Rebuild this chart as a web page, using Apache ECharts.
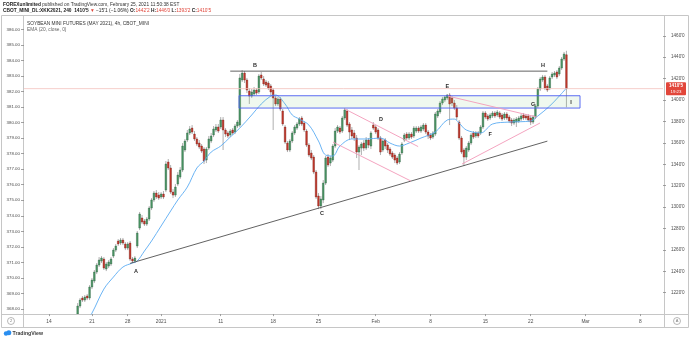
<!DOCTYPE html>
<html>
<head>
<meta charset="utf-8">
<script src="https://cdn.jsdelivr.net/npm/echarts@6/dist/echarts.min.js"></script>
<style>
  html, body { margin: 0; padding: 0; background: #ffffff; }
  #chart { width: 690px; height: 338px; }
</style>
</head>
<body>
<div id="chart"></div>
<script>
// ---- time axis: week labels and number of 4h sessions per week ----
const leadSessions = 10;
const weekLabels = ['14', '21', '28', '2021', '11', '18', '25', 'Feb', '8', '15', '22', 'Mar', '8'];
const weekSessions = [18, 15, 14, 25, 22, 19, 24, 23, 23, 19, 23, 23, 10];

// session number of the first candle on screen
const firstSession = 22;

// 4h candles, cents: [open, close, low, high]
const candles = [
  [1200.0,1207.5,1198.2,1210.3],[1207.5,1213.1,1205.6,1215.0],[1215.0,1213.1,1211.3,1216.9],[1213.1,1215.9,1211.3,1217.8],
  [1216.9,1215.0,1213.1,1218.7],[1215.0,1225.3,1213.1,1227.1],[1225.3,1231.8,1223.4,1233.7],[1230.9,1239.3,1229.0,1241.2],
  [1239.3,1245.8,1237.4,1247.7],[1245.8,1250.5,1244.0,1253.3],[1249.6,1252.4,1247.7,1254.2],[1251.4,1243.0,1241.2,1253.3],
  [1242.1,1246.8,1240.2,1248.6],[1244.9,1248.6,1243.0,1250.5],[1246.8,1251.4,1244.9,1253.3],[1254.2,1259.8,1252.4,1261.7],
  [1259.8,1263.6,1258.0,1265.5],[1268.3,1265.5,1263.6,1270.1],[1266.4,1269.2,1264.5,1271.1],[1269.2,1266.4,1264.5,1271.1],
  [1265.5,1261.7,1259.8,1267.3],[1261.7,1265.5,1259.8,1267.3],[1266.4,1251.4,1249.6,1268.3],[1251.4,1249.6,1247.7,1253.3],
  [1249.6,1252.4,1247.7,1254.2],[1263.6,1275.7,1261.7,1277.6],[1280.4,1293.5,1278.5,1295.4],[1289.8,1286.0,1284.1,1292.6],
  [1287.0,1284.1,1282.3,1288.8],[1284.1,1288.8,1282.3,1290.7],[1288.8,1299.1,1287.0,1301.0],[1299.1,1306.6,1297.2,1308.4],
  [1306.6,1313.1,1304.7,1315.0],[1313.1,1309.4,1307.5,1315.9],[1311.2,1308.4,1306.6,1314.0],[1309.4,1312.2,1307.5,1314.0],
  [1312.2,1309.4,1307.5,1315.0],[1315.9,1340.2,1314.0,1343.0],[1342.1,1336.5,1334.6,1344.9],[1336.5,1314.0,1312.2,1339.3],
  [1314.0,1311.2,1308.4,1316.8],[1311.2,1318.7,1309.4,1321.5],[1321.5,1329.9,1319.6,1332.7],[1328.0,1334.6,1326.2,1337.4],
  [1334.6,1357.0,1332.7,1359.8],[1353.3,1361.7,1351.4,1363.6],[1362.6,1369.2,1360.7,1372.0],[1369.2,1372.9,1367.3,1375.7],
  [1373.8,1370.1,1368.2,1376.6],[1368.2,1363.6,1361.7,1371.0],[1363.6,1358.9,1357.0,1365.4],[1359.8,1356.1,1354.2,1362.6],
  [1357.0,1352.3,1350.5,1358.9],[1354.2,1343.0,1340.2,1356.1],[1343.9,1354.2,1341.1,1356.1],[1355.1,1363.6,1353.3,1366.4],
  [1361.7,1366.4,1359.8,1369.2],[1367.3,1372.9,1365.4,1375.7],[1372.0,1374.8,1370.1,1377.6],[1374.8,1371.0,1369.2,1377.6],
  [1374.8,1381.3,1372.9,1384.1],[1381.3,1372.0,1353.3,1384.1],[1372.0,1368.2,1365.4,1373.8],[1369.2,1366.4,1364.5,1371.0],
  [1367.3,1371.0,1365.4,1372.9],[1372.0,1369.2,1367.3,1373.8],[1370.1,1375.7,1368.2,1377.6],[1375.7,1379.4,1373.8,1381.3],
  [1376.6,1420.6,1374.8,1424.3],[1418.7,1425.2,1416.8,1428.0],[1425.2,1418.7,1415.9,1427.1],[1418.7,1409.3,1406.5,1420.6],
  [1408.4,1403.7,1396.3,1411.2],[1403.7,1407.5,1401.9,1410.3],[1405.6,1409.3,1403.7,1412.2],[1409.3,1406.5,1404.7,1411.2],
  [1407.5,1422.4,1405.6,1424.3],[1423.4,1420.6,1418.7,1426.2],[1419.6,1415.0,1413.1,1422.4],[1416.8,1414.0,1412.2,1418.7],
  [1415.9,1411.2,1409.3,1417.8],[1413.1,1407.5,1404.7,1415.0],[1409.3,1401.9,1372.0,1411.2],[1401.9,1396.3,1394.4,1403.7],
  [1396.3,1400.9,1394.4,1402.8],[1400.9,1391.6,1389.7,1402.8],[1389.7,1377.6,1375.7,1391.6],[1374.8,1360.7,1358.9,1376.6],
  [1359.8,1353.3,1351.4,1361.7],[1353.3,1361.7,1351.4,1363.6],[1361.7,1369.2,1359.8,1371.0],[1369.2,1374.8,1367.3,1376.6],
  [1373.8,1377.6,1372.0,1379.4],[1377.6,1382.2,1375.7,1384.1],[1383.2,1377.6,1375.7,1385.1],[1378.5,1372.0,1370.1,1380.4],
  [1371.0,1357.9,1356.1,1372.9],[1357.9,1348.6,1346.7,1359.8],[1350.5,1345.8,1343.9,1353.3],[1346.7,1332.7,1330.8,1348.6],
  [1332.7,1309.4,1307.5,1334.6],[1310.3,1301.0,1298.1,1313.1],[1301.0,1307.5,1298.1,1310.3],[1306.6,1322.4,1303.7,1325.2],
  [1322.4,1345.8,1320.6,1347.7],[1346.7,1339.3,1337.4,1349.5],[1341.1,1345.8,1338.3,1347.7],[1343.9,1357.0,1342.1,1358.9],
  [1357.0,1371.0,1355.1,1373.8],[1371.0,1374.8,1369.2,1376.6],[1373.8,1370.1,1368.2,1375.7],[1371.0,1383.2,1369.2,1385.1],
  [1383.2,1390.7,1381.3,1392.5],[1389.7,1376.6,1374.8,1391.6],[1377.6,1370.1,1362.6,1379.4],[1372.0,1366.4,1363.6,1374.8],
  [1369.2,1364.5,1361.7,1372.0],[1364.5,1351.4,1345.8,1367.3],[1351.4,1356.1,1334.6,1357.9],[1355.1,1358.9,1348.6,1360.7],
  [1359.8,1355.1,1352.3,1362.6],[1355.1,1362.6,1353.3,1365.4],[1362.6,1357.9,1355.1,1364.5],[1357.0,1369.2,1354.2,1371.0],
  [1376.6,1373.8,1372.0,1379.4],[1374.8,1370.1,1368.2,1376.6],[1372.0,1364.5,1362.6,1373.8],[1364.5,1351.4,1348.6,1366.4],
  [1353.3,1361.7,1351.4,1363.6],[1362.6,1357.0,1354.2,1364.5],[1357.9,1353.3,1350.5,1359.8],[1354.2,1349.5,1347.7,1356.1],
  [1350.5,1346.7,1344.9,1352.3],[1348.6,1343.9,1341.1,1350.5],[1345.8,1341.1,1339.3,1347.7],[1342.1,1349.5,1340.2,1351.4],
  [1350.5,1358.9,1348.6,1360.7],[1362.6,1367.3,1360.7,1369.2],[1368.2,1364.5,1362.6,1370.1],[1364.5,1368.2,1362.6,1370.1],
  [1368.2,1365.4,1363.6,1370.1],[1366.4,1373.8,1364.5,1375.7],[1371.0,1373.8,1369.2,1375.7],[1373.8,1371.0,1369.2,1375.7],
  [1371.0,1374.8,1369.2,1376.6],[1372.9,1376.6,1371.0,1378.5],[1376.6,1370.1,1368.2,1378.5],[1370.1,1366.4,1363.6,1372.0],
  [1367.3,1364.5,1362.6,1369.2],[1365.4,1369.2,1363.6,1371.0],[1368.2,1386.9,1366.4,1388.8],[1385.1,1389.7,1383.2,1391.6],
  [1388.8,1397.2,1386.9,1399.1],[1397.2,1400.9,1395.3,1402.8],[1400.0,1402.8,1398.1,1403.7],[1401.9,1404.7,1400.0,1405.6],
  [1404.7,1396.3,1376.6,1406.5],[1401.9,1397.2,1394.4,1403.7],[1397.2,1392.5,1390.7,1400.0],[1392.5,1384.1,1381.3,1395.3],
  [1379.4,1364.5,1362.6,1381.3],[1364.5,1351.4,1349.5,1366.4],[1353.3,1346.7,1338.3,1355.1],[1346.7,1355.1,1343.9,1357.0],
  [1353.3,1359.8,1351.4,1361.7],[1359.8,1367.3,1357.9,1369.2],[1369.2,1365.4,1363.6,1371.0],[1366.4,1369.2,1364.5,1371.0],
  [1369.2,1366.4,1364.5,1371.0],[1369.2,1374.8,1367.3,1376.6],[1374.8,1387.9,1372.9,1389.7],[1387.9,1384.1,1382.2,1389.7],
  [1385.1,1382.2,1380.4,1386.9],[1383.2,1386.0,1381.3,1387.9],[1385.1,1387.9,1383.2,1389.7],[1387.9,1385.1,1383.2,1389.7],
  [1386.0,1388.8,1384.1,1390.7],[1387.9,1384.1,1382.2,1389.7],[1386.0,1382.2,1380.4,1387.9],[1383.2,1386.9,1381.3,1388.8],
  [1386.9,1383.2,1381.3,1388.8],[1384.1,1380.4,1378.5,1386.0],[1381.3,1378.5,1375.7,1383.2],[1378.5,1381.3,1376.6,1383.2],
  [1379.4,1382.2,1374.8,1384.1],[1380.4,1383.2,1378.5,1385.1],[1382.2,1385.1,1380.4,1386.9],[1386.0,1383.2,1381.3,1387.9],
  [1385.1,1383.2,1381.3,1386.9],[1385.1,1381.3,1379.4,1386.9],[1383.2,1379.4,1376.6,1385.1],[1379.4,1384.1,1377.6,1386.0],
  [1384.1,1394.4,1382.2,1396.3],[1394.4,1410.3,1392.5,1412.2],[1410.3,1419.6,1408.4,1421.5],[1418.7,1421.5,1416.8,1423.4],
  [1421.5,1411.2,1409.3,1423.4],[1413.1,1409.3,1407.5,1415.0],[1411.2,1420.6,1409.3,1422.4],[1421.5,1424.3,1419.6,1426.2],
  [1423.4,1425.2,1421.5,1427.1],[1426.2,1421.5,1419.6,1428.0],[1424.3,1429.9,1422.4,1431.8],[1429.9,1438.3,1428.0,1440.2],
  [1438.3,1443.0,1436.5,1444.9],[1442.25,1410.625,1393.25,1446.0]
];

// EMA (20, close) read at a sampling of sessions: [session, value]
const ema = [
  [26,1195.0],[28,1200.9],[33,1223.4],[37,1234.6],[41,1244.0],[45,1247.7],[47,1249.6],[50,1258.9],[53,1268.3],
  [57,1282.3],[61,1296.3],[64,1306.6],[68,1318.7],[72,1336.5],[75,1343.0],[78,1351.4],[82,1357.0],[86,1365.4],
  [90,1373.8],[95,1386.0],[99,1396.3],[103,1403.7],[105,1404.7],[109,1396.3],[112,1386.0],[115,1382.2],[119,1376.6],
  [123,1361.7],[126,1348.6],[129,1347.7],[132,1357.0],[137,1363.6],[143,1363.6],[149,1364.5],[153,1359.8],[157,1357.0],
  [161,1359.8],[166,1364.5],[172,1370.1],[177,1381.3],[180,1382.2],[182,1378.5],[185,1372.0],[191,1369.2],[196,1377.6],
  [203,1379.4],[212,1380.4],[215,1385.1],[220,1394.4],[224,1403.7],[227,1411.2]
];

// previous settlement used for the change figure in the header
const prevSettle = 1425.75;
const countdown = '19:23';

// axis ticks
const priceTicks = [1220,1240,1260,1280,1300,1320,1340,1360,1380,1400,1420,1440,1460];
const leftTicks = [368,369,370,371,372,373,374,375,376,377,378,379,380,381,382,383,384,385,386];

// drawings: [session, price] end points
const supportLine = [[44, 1247.4], [219, 1361.6]];
const resistanceLine = [[86, 1427.0], [219, 1427.0]];
const channelUpper = [[134.1, 1391.6], [164.8, 1356.5]];
const channelLower = [[129.1, 1360.7], [161.8, 1324.3]];
const wedgeUpper = [[177.3, 1403.7], [214.6, 1384.1]];
const wedgeLower = [[183.2, 1340.2], [215.9, 1378.5]];
const zone = [[89.7, 1404.0], [232.7, 1392.5]];
const pointNames = ['A', 'B', 'C', 'D', 'E', 'F', 'G', 'H', 'I'];
const pointSpots = [[46.5,1240.2],[96.4,1432.7],[124.5,1294.4],[149.2,1382.2],[177.0,1413.1],[195.0,1368.2],[213.0,1396.3],[217.2,1432.7],[228.9,1398.1]];

// ---- helpers ----
const FONT = 'Liberation Sans, Arial, sans-serif';
const UP = '#4c9866', UP_EDGE = '#2b5f3f';
const DOWN = '#c6392c', DOWN_EDGE = '#7a2219';
const WICK = '#9a9a9a';
const PINK = '#f39ab9';
const LINE_DARK = '#505050';

function fmtPrice(p) {
  let whole = Math.floor(p + 1e-9);
  let eighth = Math.round((p - whole) * 8);
  if (eighth === 8) { whole += 1; eighth = 0; }
  return whole + "'" + eighth;
}

const categories = [];
for (let i = 0; i < leadSessions; i++) categories.push('lead|' + i);
weekLabels.forEach((w, k) => {
  for (let i = 0; i < weekSessions[k]; i++) categories.push(k + ':' + w + '|' + i);
});
const isWeekStart = (v) => !v.startsWith('lead') && v.endsWith('|0');

const last = candles[candles.length - 1];
const lastClose = last[1];
const change = lastClose - prevSettle;
const changePct = (change / prevSettle * 100).toFixed(2);

const candleData = candles.map((c, i) => [firstSession + i, c[0], c[1], c[2], c[3]]);

function renderCandle(params, api) {
  const i = api.value(0);
  const o = api.value(1), c = api.value(2), l = api.value(3), h = api.value(4);
  const pO = api.coord([i, o]);
  const pC = api.coord([i, c]);
  const pL = api.coord([i, l]);
  const pH = api.coord([i, h]);
  const band = api.size([1, 0])[0];
  const w = Math.max(1, band * 0.7);
  const cx = pO[0];
  const up = c >= o;
  const top = Math.min(pO[1], pC[1]);
  const hgt = Math.max(0.8, Math.abs(pO[1] - pC[1]));
  return {
    type: 'group',
    children: [
      { type: 'line', shape: { x1: cx, y1: pH[1], x2: cx, y2: pL[1] }, style: { stroke: WICK, lineWidth: 0.8 } },
      { type: 'rect', shape: { x: cx - w / 2, y: top, width: w, height: hgt },
        style: { fill: up ? UP : DOWN, stroke: up ? UP_EDGE : DOWN_EDGE, lineWidth: 0.4 } }
    ]
  };
}

function renderDrawings(params, api) {
  const band = api.size([1, 0])[0];
  const pt = (s, p) => {
    const i = Math.floor(s);
    const c = api.coord([i, p]);
    return [c[0] + (s - i) * band, c[1]];
  };
  const cs = params.coordSys;
  const kids = [];
  const seg = (line, color) => {
    const a = pt(line[0][0], line[0][1]);
    const b = pt(line[1][0], line[1][1]);
    kids.push({ type: 'line', shape: { x1: a[0], y1: a[1], x2: b[0], y2: b[1] }, style: { stroke: color, lineWidth: 0.9 } });
  };
  // last price line
  const yLast = api.coord([0, lastClose])[1];
  kids.push({ type: 'line', shape: { x1: cs.x, y1: yLast, x2: cs.x + cs.width, y2: yLast }, style: { stroke: '#f2c2bd', lineWidth: 0.8 } });
  // support / resistance zone
  const z0 = pt(zone[0][0], zone[0][1]);
  const z1 = pt(zone[1][0], zone[1][1]);
  kids.push({ type: 'rect', shape: { x: z0[0], y: z0[1], width: z1[0] - z0[0], height: z1[1] - z0[1] },
    style: { fill: 'rgba(134,200,134,0.13)', stroke: '#4b5cf2', lineWidth: 0.9 } });
  seg(supportLine, LINE_DARK);
  seg(resistanceLine, LINE_DARK);
  seg(channelUpper, PINK);
  seg(channelLower, PINK);
  seg(wedgeUpper, PINK);
  seg(wedgeLower, PINK);
  pointNames.forEach((n, k) => {
    const p = pt(pointSpots[k][0], pointSpots[k][1]);
    kids.push({ type: 'text', x: p[0], y: p[1],
      style: { text: n, fill: '#2b2b2b', font: 'bold 5.5px ' + FONT, align: 'center', verticalAlign: 'middle' } });
  });
  // price tag on the right scale
  const tagX = cs.x + cs.width + 3;
  kids.push({ type: 'rect', shape: { x: tagX, y: yLast - 6.5, width: 20, height: 13, r: 1 }, style: { fill: '#e2463a' } });
  kids.push({ type: 'text', x: tagX + 10, y: yLast - 3, style: { text: fmtPrice(lastClose), fill: '#ffffff', font: 'bold 4.6px ' + FONT, align: 'center', verticalAlign: 'middle' } });
  kids.push({ type: 'text', x: tagX + 10, y: yLast + 3.2, style: { text: countdown, fill: '#ffffff', font: '4.4px ' + FONT, align: 'center', verticalAlign: 'middle' } });
  return { type: 'group', children: kids };
}

const chart = echarts.init(document.getElementById('chart'), null, { renderer: 'canvas' });

const frameColor = '#c6c6c6';
const option = {
  animation: false,
  backgroundColor: '#ffffff',
  grid: { left: 24, right: 27, top: 14.4, bottom: 23.9 },
  xAxis: {
    type: 'category',
    data: categories,
    boundaryGap: true,
    axisLine: { show: false },
    splitLine: { show: false },
    axisTick: { show: true, alignWithLabel: true, interval: (i, v) => isWeekStart(v), length: 2, lineStyle: { color: '#8a8a8a', width: 0.8 } },
    axisLabel: {
      interval: (i, v) => isWeekStart(v),
      formatter: (v) => isWeekStart(v) ? v.split('|')[0].split(':')[1] : '',
      fontSize: 4.8, color: '#4d4d4d', fontFamily: FONT, margin: 5
    }
  },
  yAxis: [
    {
      type: 'value', position: 'right', min: 1200, max: 1480, interval: 20,
      axisLine: { show: false }, splitLine: { show: false },
      axisTick: { show: true, customValues: priceTicks, length: 3, lineStyle: { color: '#8a8a8a', width: 0.8 } },
      axisLabel: { customValues: priceTicks, formatter: (v) => fmtPrice(v), fontSize: 4.6, color: '#4d4d4d', fontFamily: FONT, margin: 8 }
    },
    {
      type: 'value', position: 'left', min: 367.67, max: 386.97,
      axisLine: { show: false }, splitLine: { show: false },
      axisTick: { show: true, customValues: leftTicks, length: 3, lineStyle: { color: '#8a8a8a', width: 0.8 } },
      axisLabel: { customValues: leftTicks, formatter: (v) => v.toFixed(2), fontSize: 4.4, color: '#4d4d4d', fontFamily: FONT, margin: 4 }
    }
  ],
  series: [
    {
      type: 'custom', name: 'SOYBEAN MINI FUTURES', renderItem: renderCandle, data: candleData,
      encode: { x: 0, y: [1, 2, 3, 4] }, clip: true, z: 2, silent: true
    },
    {
      type: 'line', name: 'EMA (20, close, 0)', data: ema, smooth: 0.35, showSymbol: false, clip: true,
      lineStyle: { color: '#5aacf3', width: 0.9 }, z: 3, silent: true
    },
    {
      type: 'custom', name: 'drawings', renderItem: renderDrawings, data: [[0]],
      encode: { x: 0 }, clip: false, z: 4, silent: true
    }
  ],
  graphic: [
    // frame
    { type: 'rect', shape: { x: 1.5, y: 15.5, width: 687, height: 312 }, style: { fill: 'none', stroke: frameColor, lineWidth: 1 }, z: -1, silent: true },
    { type: 'line', shape: { x1: 23.5, y1: 15.5, x2: 23.5, y2: 327.5 }, style: { stroke: frameColor, lineWidth: 1 }, silent: true },
    { type: 'line', shape: { x1: 664.5, y1: 15.5, x2: 664.5, y2: 327.5 }, style: { stroke: frameColor, lineWidth: 1 }, silent: true },
    { type: 'line', shape: { x1: 1.5, y1: 314.5, x2: 688.5, y2: 314.5 }, style: { stroke: frameColor, lineWidth: 1 }, silent: true },
    // corner buttons
    { type: 'circle', shape: { cx: 11, cy: 321, r: 3.5 }, style: { fill: '#fff', stroke: '#9a9a9a', lineWidth: 0.7 }, silent: true },
    { type: 'text', x: 11, y: 321.2, style: { text: '2', fill: '#777', font: '4px ' + FONT, align: 'center', verticalAlign: 'middle' }, silent: true },
    { type: 'circle', shape: { cx: 677, cy: 321, r: 3.5 }, style: { fill: '#fff', stroke: '#9a9a9a', lineWidth: 0.7 }, silent: true },
    { type: 'text', x: 677, y: 321.2, style: { text: 'A', fill: '#777', font: '4px ' + FONT, align: 'center', verticalAlign: 'middle' }, silent: true },
    // header
    { type: 'text', x: 3, y: 4.8, silent: true,
      style: { text: '{b|FOREXunlimited} published on TradingView.com, February 25, 2021 11:50:38 EST',
        fill: '#333', font: '4.8px ' + FONT, verticalAlign: 'middle',
        rich: { b: { fontWeight: 'bold', fill: '#222', fontSize: 4.8, fontFamily: FONT } } } },
    { type: 'text', x: 3, y: 10.6, silent: true,
      style: {
        text: '{b|CBOT_MINI_DL:XKK2021, 240}  {b|' + fmtPrice(lastClose) + '} {r|▼} {n|−' + fmtPrice(-change) + ' (' + changePct.replace('-', '−') + '%)} ' +
              '{b|O:}{r|' + fmtPrice(last[0]) + '} {b|H:}{r|' + fmtPrice(last[3]) + '} {b|L:}{r|' + fmtPrice(last[2]) + '} {b|C:}{r|' + fmtPrice(last[1]) + '}',
        fill: '#222', font: '4.8px ' + FONT, verticalAlign: 'middle',
        rich: {
          b: { fontWeight: 'bold', fill: '#222', fontSize: 4.8, fontFamily: FONT },
          n: { fill: '#222', fontSize: 4.8, fontFamily: FONT },
          r: { fill: '#e0453a', fontSize: 4.8, fontFamily: FONT }
        } } },
    // pane legend
    { type: 'text', x: 27, y: 23.4, silent: true,
      style: { text: 'SOYBEAN MINI FUTURES (MAY 2021), 4h, CBOT_MINI', fill: '#333', font: '4.8px ' + FONT, verticalAlign: 'middle' } },
    { type: 'text', x: 27, y: 29.4, silent: true,
      style: { text: 'EMA (20, close, 0)', fill: '#666', font: '4.8px ' + FONT, verticalAlign: 'middle' } },
    // footer logo
    { type: 'circle', shape: { cx: 6, cy: 333.5, r: 2.2 }, style: { fill: '#2a8ef0' }, silent: true },
    { type: 'circle', shape: { cx: 8.8, cy: 332.8, r: 2.5 }, style: { fill: '#2a8ef0' }, silent: true },
    { type: 'text', x: 12.5, y: 333.4, silent: true,
      style: { text: 'TradingView', fill: '#3a3a3a', font: 'bold 5.2px ' + FONT, verticalAlign: 'middle' } }
  ]
};

chart.setOption(option);
</script>
</body>
</html>
